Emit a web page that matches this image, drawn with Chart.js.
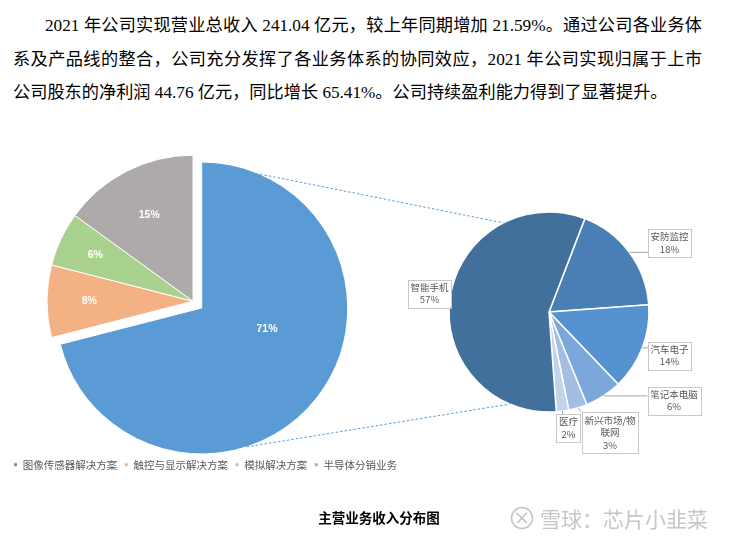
<!DOCTYPE html>
<html>
<head>
<meta charset="utf-8">
<script src="https://cdn.jsdelivr.net/npm/chart.js@4.4.1/dist/chart.umd.min.js"></script>
<style>
  html, body { margin: 0; padding: 0; background: #fff; }
  body { width: 733px; height: 540px; position: relative; overflow: hidden; }
  .para { position: absolute; font-family: "Liberation Serif", "Noto Sans CJK SC", serif; font-size: 17.2px; line-height: 20px; color: #000; white-space: nowrap; }
  .just { text-align: justify; text-align-last: justify; white-space: normal; }
  canvas { position: absolute; top: 0; }
  #title { position: absolute; left: 300px; width: 158px; top: 507px; text-align: center; font: bold 13.5px "Noto Sans CJK SC", sans-serif; color: #000; }
  #mark { position: absolute; left: 510px; top: 504px; height: 28px; display: flex; align-items: center; color: #c6c6c6; font: 21px "Noto Sans CJK SC", sans-serif; white-space: nowrap; }
  #mark svg { margin-right: 6px; }
</style>
</head>
<body>
<div class="para just" style="left:45px; width:657px; top:16px;">2021 年公司实现营业总收入 241.04 亿元，较上年同期增加 21.59%。通过公司各业务体</div>
<div class="para just" style="left:13px; width:689px; top:50px;">系及产品线的整合，公司充分发挥了各业务体系的协同效应，2021 年公司实现归属于上市</div>
<div class="para" style="left:13px; top:83px;">公司股东的净利润 44.76 亿元，同比增长 65.41%。公司持续盈利能力得到了显著提升。</div>

<canvas id="leftPie" width="422" height="540" style="left:-18px; width:422px; height:540px;"></canvas>
<canvas id="rightPie" width="733" height="540" style="left:0; width:733px; height:540px;"></canvas>

<div id="title">主营业务收入分布图</div>
<div id="mark">
  <svg width="24" height="24" viewBox="0 0 24 24">
    <circle cx="12" cy="12" r="10.5" fill="none" stroke="#c6c6c6" stroke-width="1.6"/>
    <path d="M6 7 C10 9, 13 14, 17 17 M17 7 C13 9, 11 14, 7 17" fill="none" stroke="#c6c6c6" stroke-width="1.8"/>
  </svg>
  <span>雪球：芯片小韭菜</span>
</div>

<script>
// main business split (left pie)
const segLabels = ['图像传感器解决方案', '触控与显示解决方案', '模拟解决方案', '半导体分销业务'];
const segValues = [71, 8, 6, 15];
const segColors = ['#5b9bd5', '#f4b183', '#a9d18e', '#aeaaaa'];

// image sensor breakdown (right pie)
const useLabels = ['安防监控', '汽车电子', '笔记本电脑', '新兴市场/物联网', '医疗', '智能手机'];
const useValues = [18, 14, 6, 3, 2, 57];
const useColors = ['#4a7fb6', '#5592cf', '#7ba7da', '#a3bee3', '#c2d4ec', '#41709c'];

const explode = [11, 0, 0, 0];

Chart.defaults.font.family = '"Noto Sans CJK SC", "Liberation Sans", sans-serif';
Chart.defaults.animation = false;

// move single slices outward without growing them
const explodePlugin = {
  id: 'explodeSlices',
  afterDatasetUpdate(chart, args) {
    const meta = chart.getDatasetMeta(args.index);
    meta.data.forEach((arc, i) => {
      const d = explode[i] || 0;
      if (!d || arc._exploded) return;
      const baseDraw = arc.draw;
      arc.draw = function (ctx) {
        const mid = (this.startAngle + this.endAngle) / 2;
        ctx.save();
        ctx.translate(Math.cos(mid) * d, Math.sin(mid) * d);
        baseDraw.call(this, ctx);
        ctx.restore();
      };
      arc._exploded = true;
    });
  }
};

// white percentage labels inside the left pie
const insideLabels = {
  id: 'insideLabels',
  afterDatasetsDraw(chart, args, opts) {
    const ctx = chart.ctx;
    const meta = chart.getDatasetMeta(0);
    const vals = chart.data.datasets[0].data;
    const total = vals.reduce((a, b) => a + b, 0);
    ctx.save();
    ctx.font = 'bold 10.5px "Liberation Sans", Arial, sans-serif';
    ctx.fillStyle = '#fff';
    ctx.textAlign = 'center';
    ctx.textBaseline = 'middle';
    meta.data.forEach((arc, i) => {
      const mid = (arc.startAngle + arc.endAngle) / 2;
      const d = explode[i] || 0;
      const cx = arc.x + Math.cos(mid) * d;
      const cy = arc.y + Math.sin(mid) * d;
      const a = mid + (opts.shift[i] || 0) * Math.PI / 180;
      const r = arc.outerRadius * opts.ratio[i];
      ctx.fillText(Math.round(vals[i] / total * 100) + '%', cx + Math.cos(a) * r, cy + Math.sin(a) * r);
    });
    ctx.restore();
  }
};

const leftCanvas = document.getElementById('leftPie');
const leftChart = new Chart(leftCanvas, {
  type: 'pie',
  data: {
    labels: segLabels,
    datasets: [{
      data: segValues,
      backgroundColor: segColors,
      borderColor: '#fff',
      borderWidth: 1,
      clip: false
    }]
  },
  options: {
    responsive: false,
    radius: 146,
    rotation: 0,
    layout: { padding: { top: 150, bottom: 60, left: 0, right: 0 } },
    plugins: {
      tooltip: { enabled: false },
      legend: {
        position: 'bottom',
        align: 'end',
        labels: {
          boxWidth: 4,
          boxHeight: 4,
          padding: 7,
          color: '#595959',
          font: { size: 10.5 }
        }
      },
      insideLabels: { ratio: [0.47, 0.71, 0.74, 0.66], shift: [-20, 0, 0, 0] }
    }
  },
  plugins: [explodePlugin, insideLabels]
});

function wrapText(ctx, text, maxW) {
  const lines = [];
  let cur = '';
  for (const ch of text) {
    if (cur && ctx.measureText(cur + ch).width > maxW) { lines.push(cur); cur = ch; }
    else cur += ch;
  }
  if (cur) lines.push(cur);
  return lines;
}

// callout boxes for the right pie + dashed links to the left pie
const calloutPlugin = {
  id: 'callouts',
  afterDatasetsDraw(chart, args, opts) {
    const ctx = chart.ctx;
    const meta = chart.getDatasetMeta(0);
    const vals = chart.data.datasets[0].data;
    const total = vals.reduce((a, b) => a + b, 0);
    ctx.save();
    ctx.font = '9.5px "Noto Sans CJK SC", sans-serif';
    ctx.textAlign = 'center';
    ctx.textBaseline = 'middle';
    meta.data.forEach((arc, i) => {
      const lines = wrapText(ctx, chart.data.labels[i], 52);
      lines.push(Math.round(vals[i] / total * 100) + '%');
      const w = Math.max(...lines.map(l => ctx.measureText(l).width)) + 5;
      const h = lines.length * 12.5 + 3;
      const bx = arc.x + opts.pos[i][0] - w / 2;
      const by = arc.y + opts.pos[i][1] - h / 2;
      const mid = (arc.startAngle + arc.endAngle) / 2;
      const px = arc.x + Math.cos(mid) * arc.outerRadius;
      const py = arc.y + Math.sin(mid) * arc.outerRadius;
      const qx = Math.min(Math.max(px, bx), bx + w);
      const qy = Math.min(Math.max(py, by), by + h);
      if (Math.hypot(qx - px, qy - py) > 2) {
        ctx.strokeStyle = '#a6a6a6';
        ctx.lineWidth = 1;
        ctx.beginPath();
        ctx.moveTo(px, py);
        ctx.lineTo(qx, qy);
        ctx.stroke();
      }
      ctx.fillStyle = '#fff';
      ctx.fillRect(bx, by, w, h);
      ctx.strokeStyle = '#c8c8c8';
      ctx.strokeRect(Math.round(bx) + 0.5, Math.round(by) + 0.5, Math.round(w), Math.round(h));
      ctx.fillStyle = '#595959';
      lines.forEach((l, k) => ctx.fillText(l, bx + w / 2, by + 1.5 + 12.5 * k + 6.25));
    });

    // dashed connectors from the exploded slice to the breakdown pie
    const la = leftChart.getDatasetMeta(0).data[0];
    const shiftX = leftCanvas.offsetLeft - chart.canvas.offsetLeft;
    const lmid = (la.startAngle + la.endAngle) / 2;
    const lcx = la.x + shiftX + Math.cos(lmid) * explode[0];
    const lcy = la.y + Math.sin(lmid) * explode[0];
    const ra = meta.data[0];
    const pt = (cx, cy, r, deg) => {
      const a = (deg - 90) * Math.PI / 180;
      return [cx + Math.cos(a) * r, cy + Math.sin(a) * r];
    };
    ctx.strokeStyle = '#5b9bd5';
    ctx.lineWidth = 1;
    ctx.setLineDash([2.5, 2]);
    opts.links.forEach(([la1, ra1]) => {
      const p = pt(lcx, lcy, la.outerRadius, la1);
      const q = pt(ra.x, ra.y, ra.outerRadius, ra1);
      ctx.beginPath();
      ctx.moveTo(p[0], p[1]);
      ctx.lineTo(q[0], q[1]);
      ctx.stroke();
    });
    ctx.restore();
  }
};

const rightChart = new Chart(document.getElementById('rightPie'), {
  type: 'pie',
  data: {
    labels: useLabels,
    datasets: [{
      data: useValues,
      backgroundColor: useColors,
      borderColor: '#fff',
      borderWidth: 1.5,
      clip: false
    }]
  },
  options: {
    responsive: false,
    radius: 100,
    rotation: 21,
    layout: { padding: { left: 449, right: 84, top: 212, bottom: 128 } },
    plugins: {
      tooltip: { enabled: false },
      legend: { display: false },
      callouts: {
        pos: [[120.5, -69], [120.5, 43.5], [125, 88.5], [61, 120.5], [19.5, 116], [-119.5, -18.5]],
        links: [[23.5, 333], [162, 203]]
      }
    }
  },
  plugins: [calloutPlugin]
});
</script>
</body>
</html>
